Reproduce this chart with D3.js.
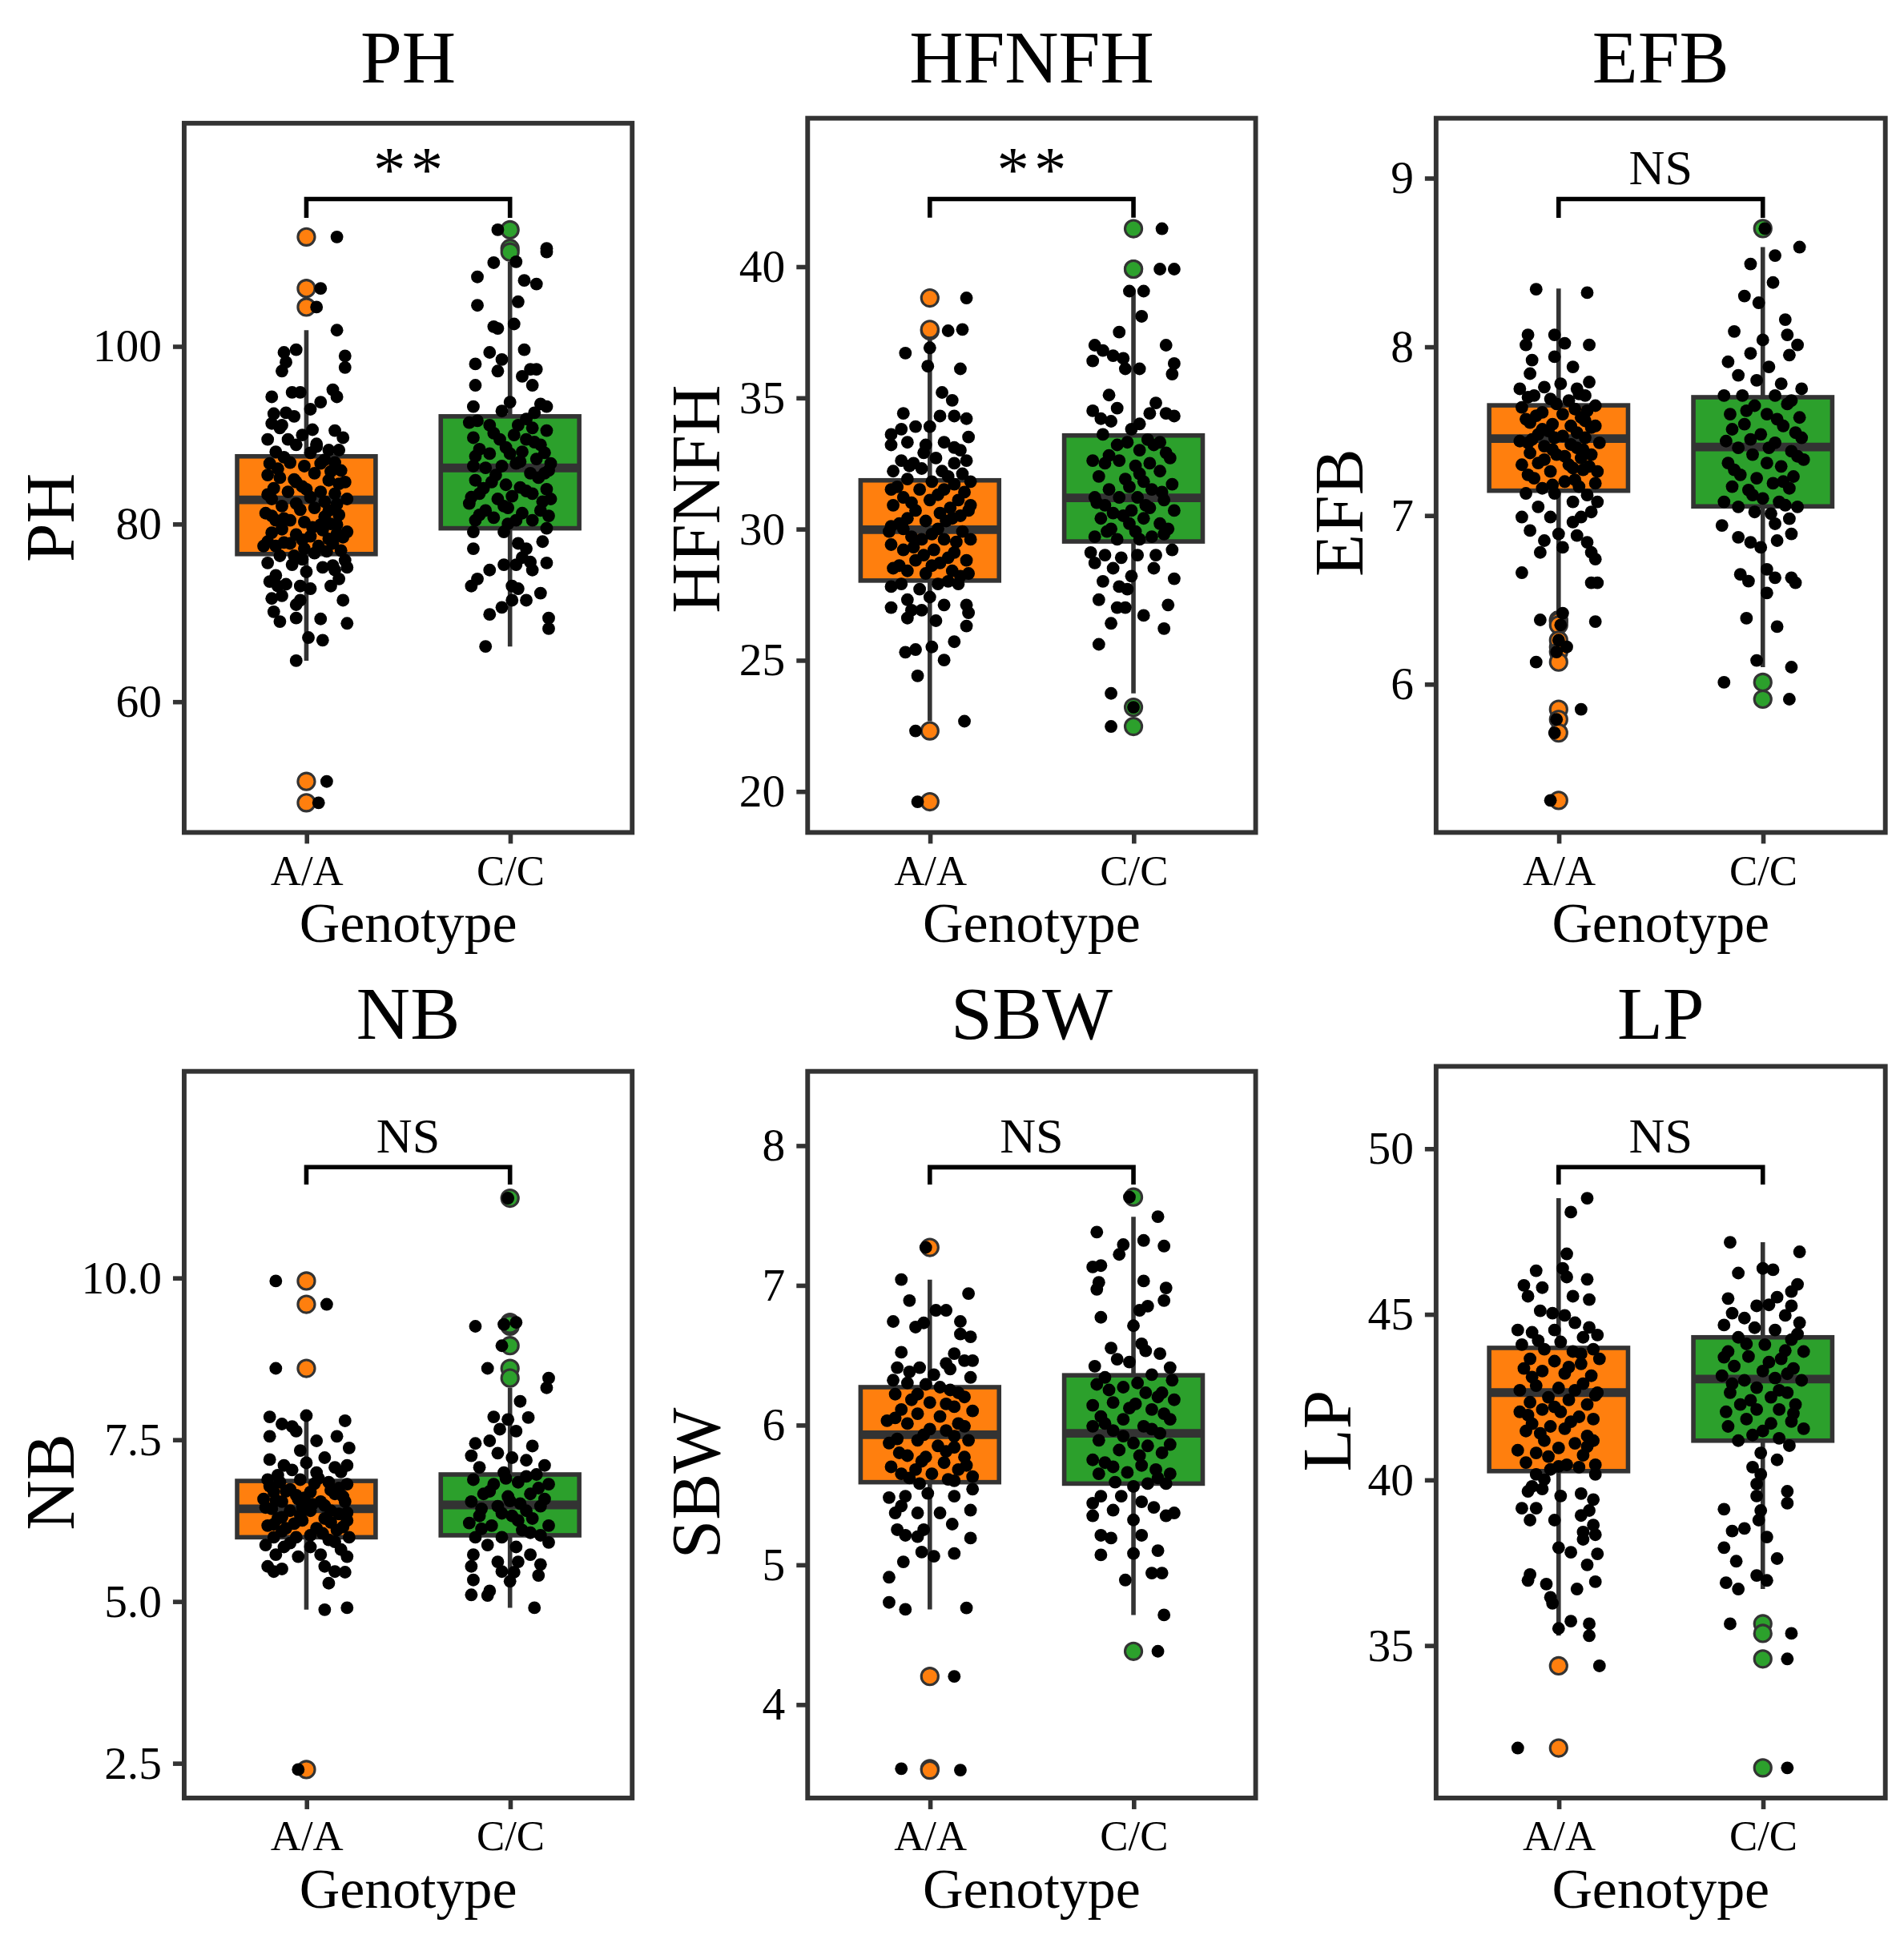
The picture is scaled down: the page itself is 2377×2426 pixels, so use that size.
<!DOCTYPE html>
<html>
<head>
<meta charset="utf-8">
<script src="https://cdn.jsdelivr.net/npm/d3@7"></script>
<style>
  body { margin: 0; background: #fff; }
</style>
</head>
<body>
<div id="chart"></div>
<script>
// ---- data: [value, horizontal jitter in category units] ----
const genotypes = ["A/A", "C/C"];
const traits = ["PH", "HFNFH", "EFB", "NB", "SBW", "LP"];
const signif = ["**", "**", "NS", "NS", "NS", "NS"];

// box stats per genotype: [lower whisker, Q1, median, Q3, upper whisker]
const phBox = [[64.6, 76.6, 82.7, 87.6, 101.8], [66.2, 79.5, 86.3, 92.1, 109.5]];
const hfBox = [[22.67, 28.03, 29.97, 31.85, 37.45], [23.73, 29.52, 31.18, 33.56, 39.1]];
const efBox = [[6.416, 7.146, 7.455, 7.652, 8.345], [6.10, 7.053, 7.405, 7.70, 8.59]];
const nbBox = [[4.87, 5.99, 6.43, 6.86, 7.87], [4.90, 6.02, 6.49, 6.96, 8.30]];
const sbBox = [[4.68, 5.59, 5.93, 6.27, 7.04], [4.64, 5.58, 5.94, 6.355, 7.49]];
const lpBox = [[35.29, 40.26, 42.63, 43.98, 48.5], [36.70, 41.18, 43.04, 44.30, 47.17]];

const phTicks = [60, 80, 100];
const hfTicks = [20, 25, 30, 35, 40];
const efTicks = [6, 7, 8, 9];
const nbTicks = [2.5, 5.0, 7.5, 10.0];
const sbTicks = [4, 5, 6, 7, 8];
const lpTicks = [35, 40, 45, 50];

const yLimits = [[45.26, 125.1], [18.43, 45.65], [5.12, 9.354], [1.96, 13.19], [3.33, 8.53], [30.39, 52.48]];
// significance bracket: [bar level, end of the drop ticks]
const bracketLevels = [[116.56, 114.45], [42.57, 41.86], [8.875, 8.764], [11.71, 11.44], [7.844, 7.72], [49.44, 48.91]];

const phAA = [
  [112.3,.15],[106.5,.07],[104.4,.05],[101.8,.15],[98.9,.19],[97.6,.19],[99.6,-.05],[99.3,-.11],[97.2,-.12],[98.2,-.10],
  [94.8,-.07],[94.8,-.03],[93.7,.07],[95.1,.13],[94.3,.15],[94.3,-.17],[92.4,-.16],[92.5,-.10],[92.1,-.06],[91.1,-.12],
  [91.3,-.17],[90.6,.03],[90.5,.14],[89.7,.18],[89.5,-.19],[89.5,-.09],[88.9,-.05],[88.7,.05],[88.3,.11],[88.3,.16],
  [88.1,-.15],[86.8,-.18],[86.9,-.08],[86.5,-.01],[86.8,.07],[86.9,.14],[85.2,-.13],[85.7,.04],[84.9,.11],[84.7,.19],
  [85.5,-.19],[84.7,-.05],[83.6,-.09],[83.9,.00],[83.6,.07],[83.4,.14],[82.8,.20],[82.8,-.17],[82.0,-.12],[82.3,-.05],
  [81.8,.04],[81.5,.11],[81.2,-.20],[80.4,-.15],[80.4,-.08],[80.2,-.01],[79.9,.07],[79.9,.15],[79.1,.20],[79.4,-.12],
  [78.8,-.05],[78.6,.02],[78.3,.11],[78.0,-.19],[77.5,-.15],[77.8,-.08],[77.2,-.01],[77.5,.06],[77.8,.13],[77.0,.17],
  [77.5,-.21],[76.4,-.13],[76.4,-.06],[76.7,.04],[75.9,.19],[75.6,-.19],[75.4,-.07],[74.6,.00],[75.1,.08],[74.8,.14],
  [75.1,.20],[73.5,-.18],[73.0,-.14],[73.2,-.10],[73.0,-.03],[72.7,.02],[73.0,.12],[73.8,.16],[71.6,-.17],[71.9,-.12],
  [71.4,.18],[70.9,-.05],[71.4,-.03],[70.1,-.16],[69.0,-.13],[69.4,-.05],[69.3,.07],[68.8,.20],[67.2,.01],[66.9,.08],
  [84.2,-.02],[81.0,.16],[79.0,-.17],[86.0,.17],[83.0,.02],[80.8,.09],[87.5,-.11],[78.5,.18],[90.0,-.02],[85.0,-.06],
  [88.0,.02],[86.2,-.14],[85.9,.12],[84.5,.16],[83.3,-.19],[82.5,.09],[81.6,-.03],[80.9,-.17],[80.0,.12],[79.6,.03],
  [78.9,.15],[77.9,-.11],[76.9,.10],[76.0,-.02],[75.3,.13],[74.2,-.15],[87.2,.09],[89.0,.05],[90.8,-.13],[92.9,.02],
  [84.0,-.16],[82.2,.15],[80.6,-.11],[79.3,.08],[78.2,-.02],
  [64.6,-.05],[51.0,.10],[48.6,.06]
];
const phCC = [
  [113.1,-.06],[109.4,-.08],[111.0,.18],[110.6,.18],[109.5,.03],[107.8,-.16],[107.4,.07],[107.0,.13],[105.0,.04],[104.6,-.16],
  [102.5,.02],[102.0,-.06],[102.2,-.08],[99.6,.07],[99.3,-.10],[98.5,-.04],[98.0,-.17],[97.2,-.06],[97.4,.10],[97.4,.13],
  [96.6,.06],[95.6,.11],[95.6,-.17],[93.7,.00],[93.5,.15],[93.2,-.18],[92.7,-.04],[93.2,.18],[91.6,-.16],[91.1,-.10],
  [91.1,.04],[90.8,.11],[90.5,.18],[89.7,-.18],[89.5,-.05],[90.0,.02],[89.5,.08],[88.9,.15],[88.4,-.15],[87.9,-.10],
  [87.9,.00],[88.1,.06],[87.3,.13],[86.8,.20],[86.5,-.18],[86.3,-.12],[86.5,-.04],[86.8,.03],[85.7,.10],[85.7,.17],
  [84.9,-.17],[84.7,-.09],[84.4,-.02],[84.1,.05],[83.9,.18],[83.4,-.15],[82.8,-.06],[83.1,.01],[83.4,.11],[82.8,.20],
  [82.3,-.20],[81.5,-.12],[81.8,-.01],[81.2,.06],[81.5,.15],[80.4,-.17],[80.7,-.08],[80.4,.03],[80.4,.11],[79.1,-.18],
  [79.1,-.03],[79.5,.18],[77.2,-.18],[77.8,.04],[77.2,.08],[78.0,.16],[76.2,.06],[75.7,.10],[75.6,.18],[74.8,-.10],
  [75.4,-.03],[75.4,.03],[74.8,.11],[73.8,-.16],[73.0,-.19],[72.2,.15],[73.0,.01],[72.7,.04],[71.4,.08],[71.4,.01],
  [70.6,-.04],[69.8,-.10],[69.4,.19],[68.2,.19],
  [91.8,.08],[90.2,-.08],[89.2,.12],[88.6,-.02],[87.6,-.17],[87.0,.05],[85.5,-.07],[85.2,.14],[84.0,-.13],[83.7,.08],
  [82.5,.16],[82.0,-.03],[81.0,-.15],[80.9,.19],[80.0,-.01],[92.5,.12],[91.4,-.20],[86.0,.19],[83.0,-.19],[88.0,.17],
  [66.2,-.12]
];
const hfAA = [
  [38.8,.18],[37.55,.09],[37.6,.16],[36.9,.00],[36.7,-.12],[36.2,-.01],[36.1,.15],[35.2,.06],[34.9,.11],[34.4,-.13],
  [34.3,.05],[34.3,.12],[34.2,.18],[33.9,.00],[33.6,-.19],[33.8,-.14],[33.9,-.07],[33.5,.19],[33.2,-.19],[33.3,-.11],
  [33.2,-.02],[33.3,.07],[33.0,.15],[32.6,-.14],[32.5,-.08],[32.7,.03],[32.5,.12],[32.6,.18],[32.2,-.18],[32.3,-.04],
  [32.2,.06],[32.1,.16],[31.9,-.11],[31.8,.01],[31.7,.12],[31.8,.20],[31.5,-.19],[31.5,-.05],[31.5,.07],[31.2,-.13],
  [31.1,.00],[31.1,.14],[30.9,-.18],[30.7,-.07],[30.6,.05],[30.7,.19],[30.4,-.11],[30.3,-.02],[30.4,.11],[30.1,-.19],
  [30.0,.04],[29.9,.16],[29.7,-.09],[29.6,-.04],[29.6,.07],[29.6,.20],[29.4,-.19],[29.2,-.13],[29.2,.02],[29.1,.12],
  [28.8,-.07],[28.7,.05],[28.8,.18],[28.5,-.18],[28.4,-.11],[28.3,-.02],[28.4,.11],[28.3,.19],[27.9,-.14],[27.9,.04],
  [27.9,.14],[27.8,-.19],[27.7,-.05],[27.4,.00],[27.3,-.11],[27.1,.07],[27.0,-.19],[27.1,.18],[26.9,-.04],[26.9,-.09],
  [26.8,.19],[26.6,-.11],[26.5,.03],[26.3,.18],[25.7,.12],[25.5,.01],[25.3,-.12],[25.4,-.07],[25.0,.07],[24.4,-.06],
  [30.8,.10],[29.0,-.03],[31.4,.17],[28.0,.09],[32.9,-.03],[30.2,-.15],
  [31.6,-.16],[31.3,.04],[31.0,-.09],[30.5,.15],[30.3,.08],[30.0,-.13],[29.8,.01],[29.5,.13],[29.3,-.08],[28.9,.09],
  [28.6,-.15],[28.2,.15],[32.0,.09],[32.4,-.10],[33.1,.12],[30.9,.20],[29.9,-.20],[28.6,.01],
  [22.67,.17],[22.3,-.07],[19.6,-.06]
];
const hfCC = [
  [41.44,.14],[39.9,.13],[39.9,.20],[39.06,-.02],[39.06,.05],[38.1,.04],[37.5,-.07],[37.0,.16],[37.0,-.19],[36.8,-.15],
  [36.6,-.10],[36.5,-.05],[36.4,-.20],[36.3,.20],[36.1,-.04],[36.1,.03],[35.9,.19],[35.1,-.12],[34.6,-.08],[34.8,.11],
  [34.5,-.20],[34.2,-.16],[34.4,.08],[34.4,.16],[34.3,.20],[34.1,-.11],[34.0,.03],[33.8,-.01],[33.6,-.15],[33.4,.07],
  [33.3,.13],[33.2,-.08],[33.3,-.03],[33.0,.03],[32.9,.16],[32.6,-.20],[32.5,-.14],[32.6,-.07],[32.5,.08],[32.4,.01],
  [32.2,.13],[32.0,-.17],[31.9,-.04],[31.8,.05],[31.7,.19],[31.5,-.12],[31.5,.09],[31.2,-.19],[31.2,-.07],[31.2,.02],
  [31.1,.15],[30.9,-.14],[30.7,-.01],[30.8,.08],[30.7,.20],[30.4,-.16],[30.5,-.05],[30.4,.05],[30.2,.13],[30.0,-.11],
  [30.0,.17],[29.9,.01],[29.7,-.19],[29.6,-.08],[29.7,.09],[29.6,.03],[29.1,-.21],[29.0,-.14],[28.9,-.06],[29.0,.02],
  [29.0,.11],[29.2,.19],[28.7,-.19],[28.5,-.10],[28.5,.10],[28.2,-.01],[28.0,-.15],[28.1,.20],[27.8,-.07],[27.7,-.03],
  [27.3,-.17],[27.0,-.08],[27.0,-.04],[27.1,.17],[26.7,.05],[26.4,-.11],[26.2,.15],[25.6,-.17],
  [33.2,.10],[32.8,-.12],[32.1,.03],[31.6,-.02],[31.4,.14],[30.9,.06],[30.6,-.10],[30.2,-.02],[29.8,.15],[32.7,.18],
  [31.0,-.18],[29.9,-.13],
  [23.73,-.11],[23.2,.00],[22.47,-.11]
];
const efAA = [
  [8.34,-.11],[8.32,.14],[8.07,-.15],[8.07,-.02],[8.02,.03],[8.01,.15],[8.01,-.16],[7.94,-.02],[7.92,-.13],[7.88,.07],
  [7.84,-.14],[7.79,.15],[7.75,-.19],[7.76,-.07],[7.78,.01],[7.75,.09],[7.71,-.12],[7.69,-.04],[7.68,.05],[7.71,.13],
  [7.65,.18],[7.64,-.18],[7.61,-.08],[7.60,.02],[7.58,.11],[7.55,-.14],[7.54,-.03],[7.53,.06],[7.53,.18],[7.48,-.10],
  [7.47,.02],[7.46,.13],[7.44,-.19],[7.43,.20],[7.41,-.07],[7.40,.09],[7.37,-.14],[7.36,-.01],[7.36,.16],[7.31,-.10],
  [7.30,.05],[7.30,-.18],[7.27,.12],[7.26,.19],[7.26,-.04],[7.22,-.12],[7.20,.03],[7.17,.10],[7.19,.18],[7.16,-.08],
  [7.13,-.16],[7.13,-.02],[7.12,.14],[7.08,.07],[7.05,-.10],[7.08,.19],[6.99,-.18],[6.99,-.04],[6.99,.11],[7.02,.16],
  [6.96,.07],[6.91,-.14],[6.89,.00],[6.88,.09],[6.85,-.07],[6.84,.14],[6.81,.02],[6.78,-.09],[6.74,.18],[6.78,.16],
  [7.50,-.05],[7.42,.06],[7.57,-.16],[7.62,.14],[7.34,.11],[7.45,-.13],[7.66,-.01],[7.52,.16],[7.39,-.03],[7.28,.07],
  [7.63,.08],[7.59,-.11],[7.56,.13],[7.51,-.08],[7.49,.09],[7.46,-.02],[7.43,-.15],[7.39,.12],[7.35,.03],[7.33,-.07],
  [7.29,.15],[7.24,-.15],[7.21,.08],[7.18,-.03],[7.70,-.15],[7.72,.10],
  [6.66,-.18],[6.60,.16],[6.60,.19],[6.42,.02],[6.38,-.09],[6.37,.18],[6.35,.01],[6.22,.04],[6.26,.00],[6.19,-.01],
  [6.13,-.11],[5.85,.11],[5.79,-.01],[5.71,-.02],[5.31,-.04]
];
const efCC = [
  [8.70,.01],[8.59,.18],[8.54,.06],[8.49,-.06],[8.38,.05],[8.30,-.09],[8.26,-.02],[8.16,.11],[8.09,-.14],[8.07,.12],
  [8.04,.00],[8.01,.17],[7.96,-.06],[7.95,.13],[7.91,-.17],[7.88,.03],[7.83,-.12],[7.80,-.03],[7.78,.09],[7.75,.19],
  [7.71,-.19],[7.71,-.10],[7.71,.06],[7.68,.14],[7.65,-.04],[7.60,-.16],[7.60,.02],[7.58,.18],[7.54,-.09],[7.53,.10],
  [7.48,-.01],[7.44,-.18],[7.46,.19],[7.43,.06],[7.40,-.12],[7.38,.14],[7.36,-.05],[7.31,.02],[7.31,-.17],[7.33,.20],
  [7.29,.09],[7.24,-.11],[7.22,-.03],[7.23,.15],[7.19,.05],[7.17,-.15],[7.16,.13],[7.15,-.07],[7.10,.00],[7.08,-.19],
  [7.08,.08],[7.05,-.12],[7.02,-.04],[7.05,.17],[7.01,.04],[6.98,.13],[6.94,-.20],[6.95,.06],[6.89,.14],[6.87,-.12],
  [6.84,-.06],[6.85,.07],[6.81,-.01],[6.65,-.11],[6.61,-.07],[6.68,.02],[6.63,.06],[6.63,.14],[6.60,.16],[6.54,.02],
  [7.66,.12],[7.62,-.08],[7.57,.07],[7.51,-.15],[7.49,.16],[7.45,-.06],[7.40,.03],[7.35,.17],[7.27,-.14],[7.20,.10],
  [7.12,-.05],[7.06,.11],
  [6.39,-.08],[6.34,.07],[6.14,-.03],[6.10,.14],[6.01,-.19],[5.91,.13]
];
const nbAA = [
  [9.95,-.15],[9.59,.10],[8.60,-.15],[7.87,.00],[7.85,-.18],[7.79,.19],[7.74,-.12],[7.70,-.07],[7.63,-.05],[7.48,.05],
  [7.55,-.18],[7.55,.15],[7.33,-.03],[7.37,.21],[7.22,.09],[7.19,-.18],[7.10,-.11],[7.14,.00],[7.07,.14],[7.10,.20],
  [7.03,-.07],[6.99,.05],[6.88,-.19],[6.84,-.13],[6.88,-.03],[6.84,.11],[6.81,.20],[6.69,-.16],[6.73,-.08],[6.69,.02],
  [6.66,.14],[6.58,-.21],[6.54,-.12],[6.58,-.04],[6.54,.07],[6.54,.19],[6.43,-.17],[6.40,-.08],[6.40,.02],[6.40,.12],
  [6.28,-.14],[6.25,-.02],[6.28,.09],[6.25,.20],[6.17,-.19],[6.13,-.10],[6.13,.05],[6.10,.15],[5.99,-.16],[5.99,-.05],
  [5.95,.11],[5.99,.21],[5.87,-.20],[5.84,-.11],[5.84,.02],[5.80,.17],[5.72,-.15],[5.69,-.04],[5.72,.07],[5.69,.20],
  [6.60,-.01],[6.35,.16],[6.20,-.06],[6.50,.03],[6.70,-.10],[6.05,.08],[6.45,-.20],[6.90,.06],[6.15,.18],[5.90,-.08],
  [6.75,.16],[6.30,-.12],
  [6.82,.04],[6.78,-.18],[6.72,.12],[6.64,-.05],[6.62,.18],[6.56,-.15],[6.48,.09],[6.46,-.02],[6.37,.20],[6.33,-.03],
  [6.22,.12],[6.19,-.16],[6.08,-.12],[6.02,.02],[5.92,.14],[6.95,-.14],[7.00,.17],
  [5.54,-.19],[5.50,-.12],[5.54,.09],[5.46,.14],[5.45,.19],[5.46,-.16],[5.28,.11],[4.87,.09],[4.90,.20],[2.40,-.04]
];
const nbCC = [
  [11.23,-.01],[9.25,-.17],[9.31,.03],[9.28,-.03],[8.95,-.04],[8.60,-.11],[8.45,.19],[8.30,.18],[8.09,.05],[7.85,-.08],
  [7.84,.09],[7.81,-.01],[7.66,-.05],[7.63,.03],[7.44,-.17],[7.48,-.10],[7.40,.11],[7.25,-.19],[7.29,-.06],[7.22,.01],
  [7.18,.08],[7.10,.17],[7.07,-.15],[6.99,-.03],[6.96,.13],[6.88,-.18],[6.81,-.08],[6.84,.04],[6.81,.19],[6.66,-.13],
  [6.62,-.01],[6.66,.10],[6.54,-.19],[6.47,-.06],[6.51,.05],[6.47,.15],[6.32,-.15],[6.32,.01],[6.28,.11],[6.21,-.20],
  [6.17,-.09],[6.17,.19],[6.10,.06],[5.99,-.17],[5.99,-.04],[6.02,.15],[5.87,-.11],[5.84,.03],[5.91,.19],[5.72,-.18],
  [5.72,.10],[5.61,-.06],[5.61,.04],[5.57,.15],[5.54,-.19],[5.46,-.04],[5.45,.02],[5.40,.14],[5.33,-.18],[5.31,.00],
  [6.90,-.02],[6.75,.14],[6.70,-.10],[6.58,.17],[6.43,-.14],[6.40,.08],[6.36,-.04],[6.25,.04],[6.12,-.14],[6.06,.10],
  [6.55,.00],[6.93,.08],
  [5.16,-.10],[5.10,-.19],[5.09,-.11],[4.90,.12]
];
const sbAA = [
  [7.27,-.02],[7.04,-.14],[6.89,-.10],[6.94,.19],[6.74,-.18],[6.70,-.07],[6.73,-.03],[6.82,.03],[6.82,.08],[6.74,.15],
  [6.65,.15],[6.63,.20],[6.52,-.14],[6.51,.12],[6.44,.08],[6.46,.17],[6.46,.21],[6.41,-.16],[6.41,-.05],[6.36,.02],
  [6.34,.20],[6.32,-.18],[6.30,-.11],[6.29,-.02],[6.27,.05],[6.23,.14],[6.22,-.17],[6.22,-.06],[6.20,.17],[6.16,.00],
  [6.15,.08],[6.11,-.14],[6.10,.21],[6.08,-.06],[6.06,.05],[6.03,-.21],[6.01,-.11],[6.01,.14],[5.97,.00],[5.96,.08],
  [5.90,-.16],[5.89,-.06],[5.89,.19],[5.85,.04],[5.84,.12],[5.87,-.20],[5.78,-.11],[5.77,-.02],[5.77,.17],[5.73,.07],
  [5.70,-.19],[5.68,-.07],[5.68,.14],[5.65,-.14],[5.65,.01],[5.63,.21],[5.61,.09],[5.58,-.05],[5.48,-.20],[5.49,-.12],
  [5.49,.12],[5.54,.21],[5.42,-.14],[5.51,-.01],[5.37,.05],[5.37,-.06],[5.37,-.17],[5.39,.20],[5.29,.11],[5.25,-.16],
  [5.21,-.12],[5.20,-.06],[5.25,-.03],[5.19,.20],[5.09,-.04],[5.06,.02],[5.08,.12],[5.02,-.13],[4.91,-.20],[4.73,-.20],
  [6.25,.10],[6.18,-.09],[6.13,.12],[6.05,-.17],[5.99,.17],[5.93,-.03],[5.92,.12],[5.81,.08],[5.80,-.15],[5.74,-.04],
  [5.71,.18],[5.62,-.10],[5.60,.12],[6.38,-.10],[6.40,.10],
  [4.68,-.12],[4.69,.18],[4.20,.12],[3.54,-.14],[3.53,.15]
];
const sbCC = [
  [7.63,-.02],[7.49,.12],[7.38,-.18],[7.29,-.05],[7.32,.05],[7.28,.15],[7.22,-.07],[7.13,-.20],[7.14,-.16],[7.02,-.17],
  [7.03,.05],[6.97,-.18],[6.98,.16],[6.89,.15],[6.77,-.16],[6.85,.07],[6.82,.03],[6.71,.00],[6.58,.04],[6.55,-.11],
  [6.51,.13],[6.53,.06],[6.42,-.19],[6.47,-.08],[6.45,-.02],[6.41,.18],[6.34,-.14],[6.36,.09],[6.32,.19],[6.29,-.18],
  [6.27,-.05],[6.23,.06],[6.23,.14],[6.16,-.10],[6.18,.20],[6.14,-.20],[6.15,.01],[6.11,.09],[6.06,-.16],[6.04,-.05],
  [6.04,.18],[5.99,-.20],[5.99,.05],[5.96,-.10],[5.94,.13],[5.89,-.17],[5.87,.00],[5.85,.07],[5.82,-.07],[5.80,.14],
  [5.75,-.20],[5.73,-.14],[5.71,.04],[5.68,.11],[5.66,-.03],[5.65,-.17],[5.65,.18],[5.59,-.09],[5.58,.07],[5.56,.00],
  [5.58,.16],[5.49,-.16],[5.49,-.06],[5.44,-.20],[5.45,.04],[5.41,.10],[5.39,-.10],[5.37,.20],[5.35,.16],[5.35,-.20],
  [5.32,.00],[5.21,-.16],[5.19,-.11],[5.21,.04],[5.10,.12],[5.07,-.16],[5.08,.00],[4.89,-.04],[4.94,.09],[4.94,.14],
  [6.30,.02],[6.25,-.12],[6.20,.12],[6.12,-.02],[6.08,.15],[6.01,-.14],[5.97,.09],[5.92,-.05],[5.86,.18],[5.78,.03],
  [5.70,-.10],[5.62,.12],
  [4.64,.15],[4.38,.12]
];
const lpAA = [
  [48.50,.14],[48.08,.06],[46.82,.04],[46.31,-.11],[46.38,.02],[46.12,.04],[46.05,.14],[45.87,-.17],[45.80,-.08],[45.54,.07],
  [45.54,-.15],[45.44,.15],[45.10,-.09],[45.03,-.03],[44.96,.03],[44.74,.08],[44.52,-.20],[44.45,-.13],[44.52,-.02],[44.37,.19],
  [44.30,.12],[44.16,.01],[44.08,-.18],[43.94,-.07],[43.87,.07],[43.94,.17],[43.65,-.14],[43.58,-.02],[43.50,.11],[43.65,.20],
  [43.36,-.17],[43.28,-.08],[43.21,.03],[43.14,.16],[42.84,-.11],[42.77,.00],[42.70,.08],[42.70,-.19],[42.63,.19],[42.49,-.05],
  [42.41,.05],[42.34,-.14],[42.27,.14],[42.12,-.08],[42.05,.01],[42.05,-.19],[41.90,.10],[41.83,.17],[41.69,-.13],[41.61,-.04],
  [41.54,.03],[41.47,-.16],[41.32,.14],[41.18,-.07],[41.10,.08],[41.18,.17],[40.96,.00],[40.89,-.20],[40.81,-.11],[40.74,.12],
  [40.52,-.16],[40.45,.04],[40.45,.18],[40.31,-.04],[40.38,.10],[40.16,-.11],[40.16,.18],[40.01,-.07],[39.80,-.13],[39.65,-.15],
  [39.72,-.08],[39.51,.01],[39.58,.11],[39.40,.17],[39.14,-.18],[39.14,-.11],[39.07,.15],[38.92,.11],[38.78,-.14],[38.78,-.02],
  [38.63,.17],[38.42,.12],[38.34,.18],[38.20,.12],[37.95,.00],[37.81,.06],[37.76,.19],[37.43,.14],[37.14,-.14],[36.96,-.15],
  [36.92,.18],[36.85,-.06],[36.70,.09],[36.45,-.04],[36.27,-.03],[35.73,.06],[35.51,.00],[35.65,.15],[35.29,.15],
  [43.80,.11],[43.40,.05],[43.10,-.13],[42.90,.12],[42.55,.18],[42.20,-.02],[41.95,-.15],[41.75,.06],[41.40,-.09],[41.00,.14],
  [40.70,-.05],[40.40,.00],[44.20,-.10],[44.60,.15],
  [34.38,.20],[31.90,-.20]
];
const lpCC = [
  [47.17,-.16],[46.88,.18],[46.38,.00],[46.34,.05],[46.24,-.12],[45.90,.17],[45.68,.14],[45.47,-.17],[45.51,.07],[45.25,-.03],
  [45.28,.03],[45.25,.14],[45.03,-.15],[44.88,-.09],[44.96,.11],[44.67,-.19],[44.74,.18],[44.59,-.04],[44.52,.06],[44.30,-.12],
  [44.23,.14],[44.08,.01],[43.87,-.17],[43.87,.20],[43.72,-.07],[43.65,.09],[43.43,-.14],[43.36,.15],[43.28,.00],[43.14,-.20],
  [43.07,.06],[43.00,-.09],[43.00,.19],[42.78,-.03],[42.63,-.16],[42.63,.12],[42.49,.04],[42.27,-.11],[42.27,.16],[42.12,-.03],
  [42.05,-.18],[42.12,.08],[41.83,-.08],[41.76,.14],[41.61,-.17],[41.54,.20],[41.47,.00],[41.25,.08],[41.18,-.12],[41.03,.13],
  [40.81,-.01],[40.60,.07],[40.38,-.05],[40.16,-.01],[39.87,-.03],[39.65,.12],[39.11,-.19],[39.29,.12],[39.51,-.03],[39.07,-.01],
  [38.78,-.02],[38.45,-.15],[38.53,-.09],[38.27,.02],[37.95,-.19],[37.54,-.13],[37.62,.07],[37.11,-.03],[36.96,.02],[36.89,-.18],
  [44.10,-.08],[43.90,.11],[43.55,.03],[43.20,.12],[42.90,-.15],[42.70,.08],[42.40,-.06],[42.00,.15],[41.70,.04],[41.35,-.05],
  [44.40,.17],[43.70,-.19],
  [36.70,-.12],[35.65,-.16],[35.36,.14],[34.59,.12],[31.30,.12]
];

// ---- layout (figure units, 1530 x 1561.5 viewBox scaled to the page) ----
const layout = [
  {x0: 148,  x1: 508,  y0: 99,  y1: 669,  titleY: 66,  ylabX: 59,   ylabY: 416},
  {x0: 649,  x1: 1009, y0: 95,  y1: 669,  titleY: 66,  ylabX: 578,  ylabY: 401},
  {x0: 1154, x1: 1515, y0: 95,  y1: 669,  titleY: 66,  ylabX: 1095, ylabY: 412},
  {x0: 148,  x1: 508,  y0: 861, y1: 1445, titleY: 835, ylabX: 59,   ylabY: 1191},
  {x0: 649,  x1: 1009, y0: 861, y1: 1445, titleY: 835, ylabX: 578,  ylabY: 1192},
  {x0: 1154, x1: 1515, y0: 857, y1: 1445, titleY: 835, ylabX: 1085, ylabY: 1150}
];

const panels = [
  {points: [phAA, phCC], box: phBox, ticks: phTicks, fmt: "d"},
  {points: [hfAA, hfCC], box: hfBox, ticks: hfTicks, fmt: "d"},
  {points: [efAA, efCC], box: efBox, ticks: efTicks, fmt: "d"},
  {points: [nbAA, nbCC], box: nbBox, ticks: nbTicks, fmt: ".1f"},
  {points: [sbAA, sbCC], box: sbBox, ticks: sbTicks, fmt: "d"},
  {points: [lpAA, lpCC], box: lpBox, ticks: lpTicks, fmt: "d"}
];

const fill = d3.scaleOrdinal().domain(genotypes).range(["#ff7f0e", "#2ca02c"]);
const serif = "'Liberation Serif', 'Times New Roman', serif";
const dark = "#333333";

const svg = d3.select("#chart").append("svg")
    .attr("width", 2377)
    .attr("height", 2426)
    .attr("viewBox", "0 0 1530 1561.5")
    .style("display", "block")
    .style("font-family", serif);

panels.forEach(function (p, i) {
    const L = layout[i];
    const x = d3.scalePoint().domain(genotypes).range([L.x0, L.x1]).padding(0.6);
    const y = d3.scaleLinear().domain(yLimits[i]).range([L.y1, L.y0]);
    const step = x.step();
    const half = 0.34 * step;
    const g = svg.append("g").attr("class", "panel");

    // y axis
    const ya = g.append("g")
        .attr("transform", "translate(" + L.x0 + ",0)")
        .call(d3.axisLeft(y).tickValues(p.ticks).tickFormat(d3.format(p.fmt)).tickSize(9).tickPadding(9));
    ya.attr("font-family", serif).attr("font-size", 37);
    ya.select(".domain").remove();
    ya.selectAll(".tick line").attr("stroke", dark).attr("stroke-width", 3.6);
    ya.selectAll(".tick text").attr("fill", "#000");

    // x axis
    const xa = g.append("g")
        .attr("transform", "translate(0," + L.y1 + ")")
        .call(d3.axisBottom(x).tickSize(9).tickPadding(9));
    xa.attr("font-family", serif).attr("font-size", 34);
    xa.select(".domain").remove();
    xa.selectAll(".tick line").attr("stroke", dark).attr("stroke-width", 3.6);
    xa.selectAll(".tick text").attr("fill", "#000");

    genotypes.forEach(function (gt, k) {
        const cx = x(gt);
        const [lo, q1, med, q3, hi] = p.box[k];
        const pts = p.points[k];

        g.append("line")
            .attr("x1", cx).attr("x2", cx)
            .attr("y1", y(hi)).attr("y2", y(lo))
            .attr("stroke", dark).attr("stroke-width", 3.6);

        g.append("rect")
            .attr("x", cx - half).attr("width", 2 * half)
            .attr("y", y(q3)).attr("height", y(q1) - y(q3))
            .attr("fill", fill(gt))
            .attr("stroke", dark).attr("stroke-width", 3.6);

        g.append("line")
            .attr("x1", cx - half).attr("x2", cx + half)
            .attr("y1", y(med)).attr("y2", y(med))
            .attr("stroke", dark).attr("stroke-width", 7);

        // boxplot outliers sit on the category centre
        g.selectAll(null)
            .data(pts.filter(d => d[0] > hi + 1e-9 || d[0] < lo - 1e-9))
            .enter().append("circle")
            .attr("cx", cx)
            .attr("cy", d => y(d[0]))
            .attr("r", 6.8)
            .attr("fill", fill(gt))
            .attr("stroke", dark).attr("stroke-width", 2);
    });

    // jittered raw points
    genotypes.forEach(function (gt, k) {
        g.selectAll(null)
            .data(p.points[k])
            .enter().append("circle")
            .attr("cx", d => x(gt) + d[1] * step)
            .attr("cy", d => y(d[0]))
            .attr("r", 5.1)
            .attr("fill", "#000");
    });

    // significance bracket
    const [lvl, tickEnd] = bracketLevels[i];
    const xa0 = x(genotypes[0]), xa1 = x(genotypes[1]);
    g.append("path")
        .attr("d", "M" + xa0 + "," + y(tickEnd) + "V" + y(lvl) + "H" + xa1 + "V" + y(tickEnd))
        .attr("fill", "none").attr("stroke", "#000").attr("stroke-width", 3.6);
    const stars = signif[i] === "**";
    g.append("text")
        .attr("x", (xa0 + xa1) / 2 + (stars ? 2 : 0))
        .attr("y", y(lvl) - (stars ? 6 : 12))
        .attr("text-anchor", "middle")
        .attr("font-size", stars ? 52 : 40)
        .attr("letter-spacing", stars ? 4 : 0)
        .text(signif[i]);

    // panel border
    g.append("rect")
        .attr("x", L.x0).attr("y", L.y0)
        .attr("width", L.x1 - L.x0).attr("height", L.y1 - L.y0)
        .attr("fill", "none").attr("stroke", dark).attr("stroke-width", 3.8);

    // titles
    g.append("text")
        .attr("x", (L.x0 + L.x1) / 2).attr("y", L.titleY)
        .attr("text-anchor", "middle").attr("font-size", 60)
        .text(traits[i]);
    g.append("text")
        .attr("x", (L.x0 + L.x1) / 2).attr("y", L.y1 + 88)
        .attr("text-anchor", "middle").attr("font-size", 45)
        .text("Genotype");
    g.append("text")
        .attr("transform", "translate(" + L.ylabX + "," + L.ylabY + ") rotate(-90)")
        .attr("text-anchor", "middle").attr("font-size", 56)
        .text(traits[i]);
});
</script>
</body>
</html>
